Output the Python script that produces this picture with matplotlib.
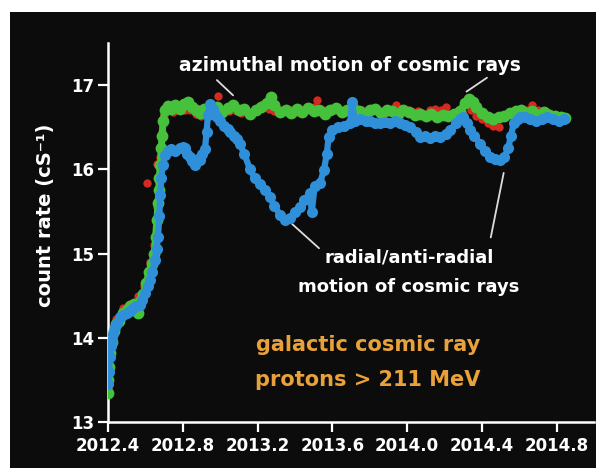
import numpy as np
import matplotlib.pyplot as plt
from matplotlib.patches import Rectangle

plt.rcParams['font.family'] = ['DejaVu Sans']
plt.rcParams['font.weight'] = 'bold'

# blue: radial/anti-radial
blue_t = [2012.400, 2012.405, 2012.411, 2012.416, 2012.421, 2012.430, 2012.437, 2012.450,
          2012.464, 2012.480, 2012.502, 2012.520, 2012.534, 2012.550, 2012.571, 2012.585,
          2012.598, 2012.612, 2012.625, 2012.638, 2012.651, 2012.660, 2012.668, 2012.675,
          2012.680, 2012.685, 2012.694, 2012.705, 2012.720, 2012.740, 2012.760, 2012.785,
          2012.800, 2012.812, 2012.825, 2012.839, 2012.852, 2012.865, 2012.880, 2012.892,
          2012.905, 2012.919, 2012.928, 2012.935, 2012.946, 2012.960, 2012.972, 2012.985,
          2012.999, 2013.020, 2013.040, 2013.053, 2013.075, 2013.090, 2013.106, 2013.130,
          2013.160, 2013.185, 2013.213, 2013.240, 2013.267, 2013.290, 2013.320, 2013.345,
          2013.374, 2013.400, 2013.427, 2013.450, 2013.481, 2013.490, 2013.505, 2013.534,
          2013.555, 2013.570, 2013.580, 2013.600, 2013.630, 2013.660, 2013.695, 2013.705,
          2013.720, 2013.748, 2013.780, 2013.802, 2013.830, 2013.855, 2013.880, 2013.909,
          2013.935, 2013.962, 2013.990, 2014.016, 2014.045, 2014.069, 2014.095, 2014.123,
          2014.150, 2014.176, 2014.205, 2014.230, 2014.260, 2014.283, 2014.300, 2014.320,
          2014.337, 2014.360, 2014.390, 2014.415, 2014.444, 2014.470, 2014.497, 2014.520,
          2014.540, 2014.555, 2014.570, 2014.590, 2014.604, 2014.630, 2014.658, 2014.690,
          2014.720, 2014.750, 2014.780, 2014.810, 2014.840]
blue_v = [13.45, 13.60, 13.77, 13.90, 13.97, 14.05, 14.13, 14.18,
          14.25, 14.27, 14.29, 14.32, 14.35, 14.38, 14.39, 14.45,
          14.53, 14.62, 14.69, 14.78, 14.92, 15.05, 15.20, 15.45,
          15.70, 15.90, 16.05, 16.17, 16.22, 16.24, 16.22, 16.26,
          16.27, 16.25, 16.18, 16.15, 16.10, 16.05, 16.12, 16.11,
          16.18, 16.24, 16.45, 16.65, 16.78, 16.72, 16.65, 16.62,
          16.58, 16.52, 16.48, 16.45, 16.40, 16.36, 16.30, 16.18,
          16.00, 15.90, 15.83, 15.76, 15.67, 15.57, 15.46, 15.40,
          15.42, 15.50, 15.55, 15.64, 15.72, 15.49, 15.80, 15.84,
          15.99, 16.18, 16.38, 16.47, 16.50, 16.52, 16.55, 16.80,
          16.57, 16.60, 16.58, 16.57, 16.55, 16.55, 16.56, 16.55,
          16.58, 16.55, 16.53, 16.50, 16.45, 16.38, 16.40, 16.37,
          16.40, 16.38, 16.42, 16.47, 16.55, 16.60, 16.62, 16.55,
          16.47, 16.40, 16.30, 16.22, 16.15, 16.12, 16.11, 16.15,
          16.25, 16.40, 16.55, 16.60, 16.62, 16.62, 16.60, 16.58,
          16.60, 16.62, 16.60, 16.58, 16.60]

# green: azimuthal
green_t = [2012.400, 2012.403, 2012.408, 2012.414, 2012.421, 2012.432, 2012.445, 2012.460,
           2012.480, 2012.500, 2012.520, 2012.540, 2012.560, 2012.575, 2012.590, 2012.605,
           2012.620, 2012.635, 2012.648, 2012.655, 2012.662, 2012.668, 2012.672, 2012.675,
           2012.680, 2012.685, 2012.690, 2012.695, 2012.705, 2012.720, 2012.740, 2012.760,
           2012.785, 2012.805, 2012.830, 2012.850, 2012.870, 2012.892, 2012.915, 2012.940,
           2012.960, 2012.985, 2013.010, 2013.040, 2013.070, 2013.100, 2013.130, 2013.160,
           2013.190, 2013.220, 2013.250, 2013.270, 2013.290, 2013.320, 2013.350, 2013.380,
           2013.410, 2013.440, 2013.470, 2013.500, 2013.530, 2013.560, 2013.590, 2013.620,
           2013.650, 2013.680, 2013.710, 2013.740, 2013.770, 2013.800, 2013.830, 2013.860,
           2013.890, 2013.920, 2013.950, 2013.980, 2014.010, 2014.040, 2014.070, 2014.100,
           2014.130, 2014.160, 2014.190, 2014.220, 2014.250, 2014.280, 2014.310, 2014.330,
           2014.350, 2014.370, 2014.400, 2014.430, 2014.460, 2014.490, 2014.520, 2014.550,
           2014.580, 2014.610, 2014.640, 2014.670, 2014.700, 2014.730, 2014.760, 2014.790,
           2014.820, 2014.845]
green_v = [13.34, 13.50, 13.65, 13.82, 13.95, 14.08, 14.17, 14.20,
           14.30, 14.33, 14.38, 14.40, 14.30, 14.45, 14.52, 14.65,
           14.78, 14.88, 15.00, 15.20, 15.40, 15.60, 15.75, 15.90,
           16.05, 16.25, 16.40, 16.58, 16.70, 16.75, 16.72, 16.76,
           16.72, 16.78, 16.80, 16.74, 16.70, 16.67, 16.72, 16.66,
           16.71, 16.74, 16.68, 16.73, 16.77, 16.70, 16.72, 16.66,
           16.71, 16.74, 16.79, 16.86, 16.76, 16.68, 16.71, 16.67,
           16.72, 16.68, 16.73, 16.69, 16.71, 16.66, 16.70, 16.73,
           16.68, 16.71, 16.73, 16.69, 16.66, 16.70, 16.72, 16.67,
           16.71, 16.69, 16.66, 16.70, 16.68, 16.65, 16.66, 16.64,
           16.66, 16.62, 16.65, 16.63, 16.66, 16.69, 16.79, 16.83,
           16.80, 16.74, 16.67, 16.62, 16.60, 16.62, 16.64, 16.67,
           16.69, 16.71, 16.67, 16.69, 16.65, 16.68, 16.65, 16.64,
           16.62, 16.61]

# red (mostly hidden under green)
red_t = [2012.400, 2012.420, 2012.445, 2012.480, 2012.520, 2012.560, 2012.595, 2012.610,
         2012.625, 2012.645, 2012.660, 2012.665, 2012.672, 2012.680, 2012.688, 2012.698,
         2012.720, 2012.750, 2012.780, 2012.810, 2012.840, 2012.870, 2012.900, 2012.930,
         2012.960, 2012.990, 2013.020, 2013.050, 2013.080, 2013.110, 2013.140, 2013.170,
         2013.200, 2013.230, 2013.260, 2013.290, 2013.320, 2013.350, 2013.380, 2013.410,
         2013.440, 2013.470, 2013.500, 2013.520, 2013.550, 2013.580, 2013.610, 2013.640,
         2013.670, 2013.700, 2013.730, 2013.760, 2013.790, 2013.820, 2013.850, 2013.880,
         2013.910, 2013.940, 2013.970, 2014.000, 2014.030, 2014.060, 2014.090, 2014.120,
         2014.150, 2014.180, 2014.210, 2014.240, 2014.270, 2014.300, 2014.340, 2014.370,
         2014.400, 2014.430, 2014.460, 2014.490, 2014.520, 2014.550, 2014.580, 2014.610,
         2014.640, 2014.670, 2014.700, 2014.730, 2014.760, 2014.790, 2014.820, 2014.845]
red_v = [13.40, 13.90, 14.22, 14.35, 14.40, 14.50, 14.62, 15.84,
         14.90, 15.10, 16.07, 15.55, 15.85, 16.15, 16.45, 16.65,
         16.70, 16.68, 16.72, 16.70, 16.71, 16.66, 16.64, 16.68,
         16.72, 16.87, 16.70, 16.69, 16.71, 16.67, 16.70, 16.68,
         16.72, 16.78, 16.72, 16.69, 16.70, 16.69, 16.70, 16.68,
         16.70, 16.72, 16.74, 16.82, 16.70, 16.68, 16.70, 16.68,
         16.69, 16.71, 16.68, 16.70, 16.68, 16.71, 16.69, 16.67,
         16.70, 16.76, 16.68, 16.70, 16.68, 16.69, 16.66, 16.70,
         16.72, 16.70, 16.74, 16.66, 16.69, 16.66, 16.70, 16.64,
         16.60, 16.55, 16.52, 16.50, 16.62, 16.68, 16.70, 16.69,
         16.71, 16.76, 16.70, 16.68, 16.67, 16.65, 16.63, 16.62]

xticks = [2012.4, 2012.8, 2013.2, 2013.6, 2014.0, 2014.4, 2014.8]
yticks = [13, 14, 15, 16, 17]

fig = plt.figure(figsize=(5.96, 4.68), dpi=100, facecolor='white')
# black panel behind everything
fig.patches.append(Rectangle((10 / 596, 0), 1, 456 / 468, transform=fig.transFigure,
                             facecolor='#0c0c0c', edgecolor='none', zorder=-10))
ax = fig.add_axes([0.181, 0.098, 0.816, 0.81])
ax.set_facecolor('#0c0c0c')

ax.plot(red_t, red_v, 'o', color='#d52a1f', ms=6, mew=0, zorder=2)
ax.plot(green_t, green_v, '-', color='#46c13c', lw=5, zorder=3)
ax.plot(green_t, green_v, 'o', color='#46c13c', ms=8.5, mew=0, zorder=3)
ax.plot(blue_t, blue_v, '-', color='#2f8fd9', lw=4.5, zorder=4)
ax.plot(blue_t, blue_v, 'o', color='#2f8fd9', ms=8, mew=0, zorder=4)

ax.set_xlim(2012.4, 2015.0)
ax.set_ylim(13, 17.5)
ax.set_xticks(xticks)
ax.set_xticklabels(['%.1f' % t for t in xticks])
ax.set_yticks(yticks)

for s in ['top', 'right']:
    ax.spines[s].set_visible(False)
for s in ['left', 'bottom']:
    ax.spines[s].set_color('white')
    ax.spines[s].set_linewidth(1.8)
ax.tick_params(colors='white', width=1.6, length=7, labelsize=12)
ax.tick_params(axis='y', pad=3)
ax.tick_params(axis='x', pad=4)

fig.text(46 / 596, 1 - 215 / 468, 'count rate (cS⁻¹)', rotation=90, color='white',
         fontsize=14, fontweight='bold', ha='center', va='center')

ax.text(2013.695, 17.237, 'azimuthal motion of cosmic rays', color='white',
        fontsize=13.5, fontweight='bold', ha='center', va='center')
ax.text(2014.010, 14.958, 'radial/anti-radial', color='white',
        fontsize=13, fontweight='bold', ha='center', va='center')
ax.text(2014.010, 14.602, 'motion of cosmic rays', color='white',
        fontsize=13, fontweight='bold', ha='center', va='center')
ax.text(2013.791, 13.914, 'galactic cosmic ray', color='#e9a23a',
        fontsize=15, fontweight='bold', ha='center', va='center')
ax.text(2013.791, 13.499, 'protons > 211 MeV', color='#e9a23a',
        fontsize=15, fontweight='bold', ha='center', va='center')

lp = dict(arrowstyle='-', color='#dddddd', lw=1.3)
ax.annotate('', xy=(2013.080, 16.857), xytext=(2012.972, 17.083), arrowprops=lp)
ax.annotate('', xy=(2014.305, 16.905), xytext=(2014.439, 17.107), arrowprops=lp)
ax.annotate('', xy=(2013.374, 15.374), xytext=(2013.540, 15.042), arrowprops=lp)
ax.annotate('', xy=(2014.519, 15.991), xytext=(2014.444, 15.160), arrowprops=lp)

fig.savefig('out.png', dpi=100, facecolor='white')
